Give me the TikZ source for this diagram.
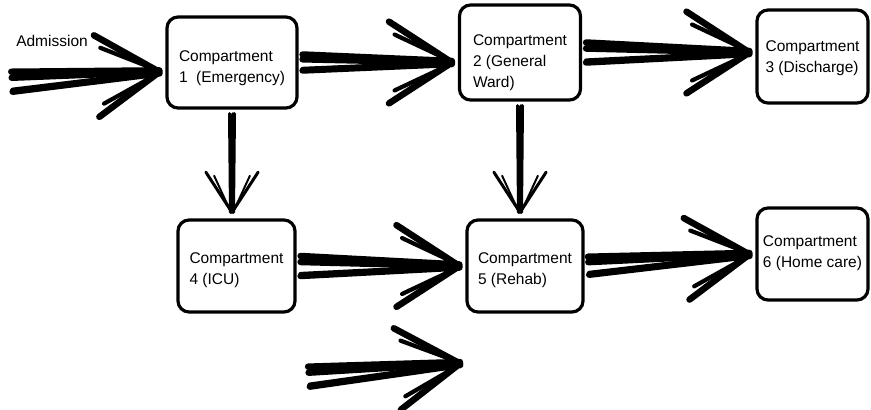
\documentclass[tikz,border=0pt]{standalone}
\usepackage{fontspec}
\setmainfont{Liberation Sans}
\usetikzlibrary{calc}
\newcommand{\compfont}{\fontsize{15.5}{21}\selectfont}
% box text, lowered by the optional amount
\newcommand{\comp}[2][4pt]{\raisebox{\dimexpr-#1-4pt}[0pt][0pt]{\begin{tabular}{@{}l@{}}#2\end{tabular}}}
\tikzset{
  box/.style={draw,line width=3.2pt,rounded corners=11pt,inner sep=0pt,font=\compfont},
  brush/.style={line width=6.5pt,line cap=round,line join=round},
  thinbrush/.style={line width=3pt,line cap=round,line join=round}
}
% felt-pen arrow: [style]{tail}{tip}{half spread of tail}{head length}
\newcommand{\brusharrow}[5][brush]{%
  \coordinate (bt) at ($(#2)!4pt!(#3)$);
  \coordinate (bh) at ($(#3)!6pt!(#2)$);
  \draw[#1] ($(bt)!#4!90:(bh)$) -- ($(bh)!1.5pt!-90:(bt)$)
            ($(bt)!#4!-90:(bh)$) -- ($(bh)!1.5pt!90:(bt)$)
            ($(bt)!0.4*#4!90:(bh)$) -- (bh)
            ($(bh)!#5!33:(bt)$) -- (bh)
            ($(bh)!#5!-33:(bt)$) -- (bh);
  \draw[#1,line width=0.65*\pgflinewidth]
            ($(bh)!0.85*#5!26:(bt)$) -- ($(bh)!1pt!90:(bt)$)
            ($(bh)!0.85*#5!-26:(bt)$) -- ($(bh)!1pt!-90:(bt)$)
            ($(bt)!0.8*#4!-90:(bh)$) -- (bh);
}

\begin{document}
\begin{tikzpicture}[x=1pt,y=-1pt]
\path[fill=white] (0,0) rectangle (871,410);
\useasboundingbox (0,0) rectangle (871,410);
% compartments
\node[box,minimum width=130pt,minimum height=91pt] (b1) at (232,62.5) {\comp[5pt]{Compartment\\1~ (Emergency)}};
\node[box,minimum width=121pt,minimum height=95pt] (b2) at (520,52.5) {\comp[9pt]{Compartment\\2 (General\\Ward)}};
\node[box,minimum width=111pt,minimum height=93pt] (b3) at (812.5,56.5) {\comp[1pt]{Compartment\\3 (Discharge)}};
\node[box,minimum width=117pt,minimum height=92pt] (b4) at (236.5,266) {\comp[3pt]{Compartment\\4 (ICU)}};
\node[box,minimum width=116pt,minimum height=92pt] (b5) at (525,266) {\comp[3pt]{Compartment\\5 (Rehab)}};
\node[box,minimum width=111pt,minimum height=92pt] (b6) at (812.5,254) {\comp[-2pt]{Compartment\\6 (Home care)}};
\node[font=\compfont] (adm) at (52,41) {Admission};
\coordinate (in) at (8,82);
\coordinate (out0) at (305,377);
\coordinate (out1) at (466,363);
% flows
\brusharrow{in}{[yshift=-9pt]b1.west}{10pt}{75pt}
\brusharrow{b1.east}{b1.east -| b2.west}{8pt}{75pt}
\brusharrow{b2.east}{b2.east -| b3.west}{10pt}{75pt}
\brusharrow{b4.east}{b4.east -| b5.west}{10pt}{75pt}
\brusharrow{b5.east}{b6.west}{9pt}{75pt}
\brusharrow{out0}{out1}{10pt}{75pt}
\brusharrow[thinbrush]{b1.south}{b1.south |- b4.north}{2.5pt}{48pt}
\brusharrow[thinbrush]{b2.south}{b2.south |- b5.north}{2.5pt}{48pt}
\end{tikzpicture}
\end{document}
